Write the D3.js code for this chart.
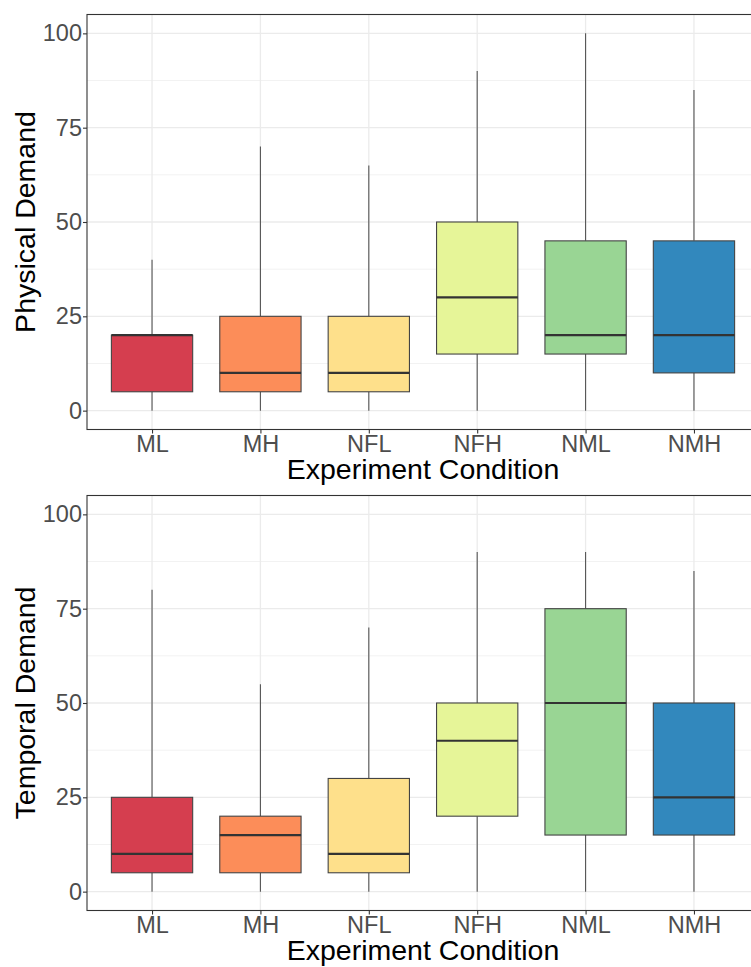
<!DOCTYPE html>
<html>
<head>
<meta charset="utf-8">
<script src="https://cdn.jsdelivr.net/npm/d3@7"></script>
<style>
  body { margin: 0; background: #fff; }
  svg { display: block; font-family: "Liberation Sans", Arial, sans-serif; }
</style>
</head>
<body>
<svg width="751" height="967"></svg>
<script>
// Categories and fill colours
var conditions = ['ML', 'MH', 'NFL', 'NFH', 'NML', 'NMH'];
var fills = ['#D53E4F', '#FC8D59', '#FEE08B', '#E6F598', '#99D594', '#3288BD'];
var yTicks = [0, 25, 50, 75, 100];

// Physical demand: [min, q1, median, q3, max]
var physMin = [0, 0, 0, 0, 0, 0];
var physQ1 = [5, 5, 5, 15, 15, 10];
var physMed = [20, 10, 10, 30, 20, 20];
var physQ3 = [20, 25, 25, 50, 45, 45];
var physMax = [40, 70, 65, 90, 100, 85];

// Temporal demand
var tempMin = [0, 0, 0, 0, 0, 0];
var tempQ1 = [5, 5, 5, 20, 15, 15];
var tempMed = [10, 15, 10, 40, 50, 25];
var tempQ3 = [25, 20, 30, 50, 75, 50];
var tempMax = [80, 55, 70, 90, 90, 85];

var svg = d3.select('svg');

// Draw one boxplot panel
function drawPanel(top, yTitle, mins, q1s, meds, q3s, maxs) {
  var left = 87, width = 672, height = 415;
  var g = svg.append('g').attr('transform', 'translate(' + left + ',' + top + ')');

  // ggplot-style discrete scale with 0.6 expansion on each side
  var x = d3.scaleLinear().domain([0.4, 6.6]).range([0, width]);
  var y = d3.scaleLinear().domain([-5, 105]).range([height, 0]);
  var boxW = x(0.75) - x(0);

  // minor grid
  g.selectAll('.minor').data([12.5, 37.5, 62.5, 87.5]).enter().append('line')
      .attr('x1', 0).attr('x2', width)
      .attr('y1', d => y(d)).attr('y2', d => y(d))
      .attr('stroke', '#F2F2F2').attr('stroke-width', 1);
  // major grid
  g.selectAll('.major').data(yTicks).enter().append('line')
      .attr('x1', 0).attr('x2', width)
      .attr('y1', d => y(d)).attr('y2', d => y(d))
      .attr('stroke', '#EBEBEB').attr('stroke-width', 1.3);
  g.selectAll('.vgrid').data(conditions).enter().append('line')
      .attr('x1', (d, i) => x(i + 1)).attr('x2', (d, i) => x(i + 1))
      .attr('y1', 0).attr('y2', height)
      .attr('stroke', '#EBEBEB').attr('stroke-width', 1.3);

  var boxes = g.selectAll('.box').data(conditions).enter().append('g');
  // whiskers
  boxes.append('line')
      .attr('x1', (d, i) => x(i + 1)).attr('x2', (d, i) => x(i + 1))
      .attr('y1', (d, i) => y(maxs[i])).attr('y2', (d, i) => y(q3s[i]))
      .attr('stroke', '#555').attr('stroke-width', 1.1);
  boxes.append('line')
      .attr('x1', (d, i) => x(i + 1)).attr('x2', (d, i) => x(i + 1))
      .attr('y1', (d, i) => y(q1s[i])).attr('y2', (d, i) => y(mins[i]))
      .attr('stroke', '#555').attr('stroke-width', 1.1);
  // boxes
  boxes.append('rect')
      .attr('x', (d, i) => x(i + 1) - boxW / 2)
      .attr('width', boxW)
      .attr('y', (d, i) => y(q3s[i]))
      .attr('height', (d, i) => y(q1s[i]) - y(q3s[i]))
      .attr('fill', (d, i) => fills[i])
      .attr('stroke', '#444').attr('stroke-width', 1.1);
  // medians
  boxes.append('line')
      .attr('x1', (d, i) => x(i + 1) - boxW / 2).attr('x2', (d, i) => x(i + 1) + boxW / 2)
      .attr('y1', (d, i) => y(meds[i])).attr('y2', (d, i) => y(meds[i]))
      .attr('stroke', '#333').attr('stroke-width', 2.2);

  // panel border
  g.append('rect')
      .attr('x', 0).attr('y', 0).attr('width', width).attr('height', height)
      .attr('fill', 'none').attr('stroke', '#333').attr('stroke-width', 1.1);

  // y axis
  var yAxis = g.append('g').call(d3.axisLeft(y).tickValues(yTicks).tickSize(4).tickPadding(1));
  yAxis.select('.domain').remove();
  yAxis.selectAll('line').attr('stroke', '#333').attr('stroke-width', 1.1);
  yAxis.selectAll('text').attr('fill', '#4D4D4D').style('font-size', '23.5px');

  // x axis
  var xAxis = g.append('g').attr('transform', 'translate(0,' + height + ')')
      .call(d3.axisBottom(x).tickValues([1, 2, 3, 4, 5, 6])
        .tickFormat(d => conditions[d - 1]).tickSize(4).tickPadding(2));
  xAxis.select('.domain').remove();
  xAxis.selectAll('line').attr('stroke', '#333').attr('stroke-width', 1.1);
  xAxis.selectAll('text').attr('fill', '#4D4D4D').style('font-size', '23.5px');

  // axis titles
  g.append('text')
      .attr('x', width / 2).attr('y', height + 49)
      .attr('text-anchor', 'middle')
      .style('font-size', '28.5px').attr('fill', '#000')
      .text('Experiment Condition');
  g.append('text')
      .attr('transform', 'translate(-52,' + (height / 2) + ') rotate(-90)')
      .attr('text-anchor', 'middle')
      .style('font-size', '28.5px').attr('fill', '#000')
      .text(yTitle);
}

drawPanel(14.5, 'Physical Demand', physMin, physQ1, physMed, physQ3, physMax);
drawPanel(495.5, 'Temporal Demand', tempMin, tempQ1, tempMed, tempQ3, tempMax);
</script>
</body>
</html>
